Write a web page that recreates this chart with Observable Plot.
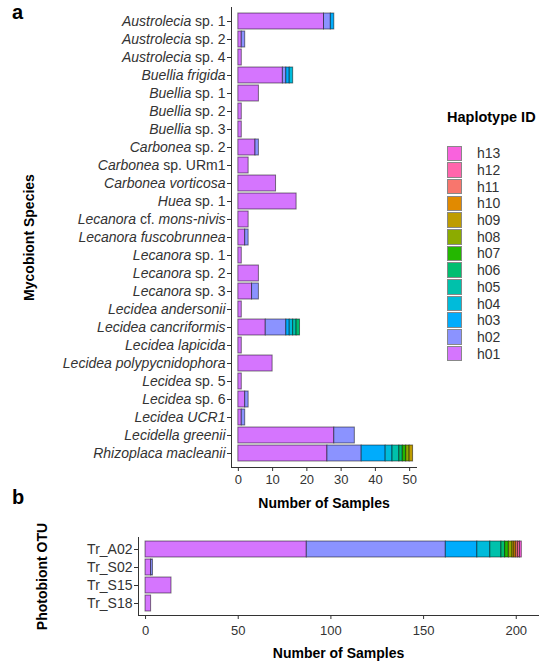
<!DOCTYPE html>
<html><head><meta charset="utf-8">
<script src="https://cdn.jsdelivr.net/npm/d3@7"></script>
<script src="https://cdn.jsdelivr.net/npm/@observablehq/plot@0.6"></script>
<style>
body{margin:0;background:#fff;font-family:"Liberation Sans",Arial,sans-serif;}
#wrap{position:relative;width:540px;height:664px;overflow:hidden;}
#wrap svg{position:absolute;left:0;}
.tag{position:absolute;font-weight:bold;font-size:20px;color:#000;line-height:20px;}
#legend{position:absolute;left:447px;top:108px;font-size:14px;color:#333;}
#legend .title{font-weight:bold;color:#000;font-size:14.5px;line-height:18px;margin-bottom:19px;}
#legend .row{display:flex;align-items:center;height:16.7px;}
#legend .key{width:15px;height:15.5px;border:1px solid #888;box-sizing:border-box;margin-right:15px;}
g[aria-label="x-axis label"] text, g[aria-label="y-axis label"] text{font-weight:bold;font-size:14px;fill:#000;}
g[aria-label="x-axis tick label"]{fill:#333;font-size:13px;}
g[aria-label="y-axis tick label"]{fill:#333;font-size:14px;}
g[aria-label="x-axis tick"], g[aria-label="y-axis tick"]{stroke:#333;}
</style></head><body><div id="wrap"></div>
<script>
const species = ["Austrolecia sp. 1","Austrolecia sp. 2","Austrolecia sp. 4","Buellia frigida","Buellia sp. 1","Buellia sp. 2","Buellia sp. 3","Carbonea sp. 2","Carbonea sp. URm1","Carbonea vorticosa","Huea sp. 1","Lecanora cf. mons-nivis","Lecanora fuscobrunnea","Lecanora sp. 1","Lecanora sp. 2","Lecanora sp. 3","Lecidea andersonii","Lecidea cancriformis","Lecidea lapicida","Lecidea polypycnidophora","Lecidea sp. 5","Lecidea sp. 6","Lecidea UCR1","Lecidella greenii","Rhizoplaca macleanii"];
// counts per haplotype h01, h02, h03, ...
const speciesCounts = [[25,2,1],[1,1],[1],[13,1,1,1],[6],[1],[1],[5,1],[3],[11],[17],[3],[2,1],[1],[6],[4,2],[1],[8,6,1,1,1,1],[1],[10],[1],[2,1],[1,1],[28,6],[26,10,7,2,2,1,1,1,1]];
const haplotypes = ["h01","h02","h03","h04","h05","h06","h07","h08","h09","h10","h11","h12","h13"];
const hapColors = ["#D575FE","#8B93FF","#00ACFC","#00BBDA","#00C1AB","#00BE70","#24B700","#8CAB00","#BE9C00","#E18A00","#F8766D","#FF65AC","#F962DD"];
const otus = ["Tr_A02","Tr_S02","Tr_S15","Tr_S18"];
const otuCounts = [[87,75,17,7,6,2,2,2,1,1,1,1,1],[3,1],[14],[3]];
const xTicksA = [0,10,20,30,40,50];
const xTicksB = [0,50,100,150,200];

function toRows(groups, counts){
  const rows = [];
  groups.forEach((g,i)=>counts[i].forEach((n,j)=>{ if(n>0) rows.push({group:g, hap:haplotypes[j], n}); }));
  return rows;
}
const rowsA = toRows(species, speciesCounts);
const rowsB = toRows(otus, otuCounts);
const font = "'Liberation Sans', Arial, sans-serif";
const wrap = document.getElementById("wrap");

const plotA = Plot.plot({
  width: 540, height: 515,
  marginLeft: 231, marginRight: 124, marginTop: 7, marginBottom: 48,
  style: {fontFamily: font, fontSize: "13px", background: "transparent"},
  x: {domain: [-2, 52]},
  y: {domain: species, paddingInner: 0.1, paddingOuter: 0.15},
  color: {domain: haplotypes, range: hapColors},
  marks: [
    Plot.barX(rowsA, {x: "n", y: "group", fill: "hap", stroke: "black", strokeOpacity: 0.5, strokeWidth: 1}),
    Plot.frame({anchor: "left", stroke: "#333"}),
    Plot.frame({anchor: "bottom", stroke: "#333"}),
    Plot.axisX({ticks: xTicksA, tickSize: 4, tickPadding: 3, label: "Number of Samples", labelAnchor: "center", labelArrow: "none", labelOffset: 40}),
    Plot.axisY({tickSize: 4, tickPadding: 2, label: "Mycobiont Species", labelAnchor: "center", labelArrow: "none", labelOffset: 207})
  ]
});
plotA.style.top = "0px";
wrap.appendChild(plotA);

const plotB = Plot.plot({
  width: 540, height: 149,
  marginLeft: 138, marginRight: 2, marginTop: 22, marginBottom: 49,
  style: {fontFamily: font, fontSize: "13px", background: "transparent"},
  x: {domain: [-3.8, 212]},
  y: {domain: otus, paddingInner: 0.1, paddingOuter: 0.15},
  color: {domain: haplotypes, range: hapColors},
  marks: [
    Plot.barX(rowsB, {x: "n", y: "group", fill: "hap", stroke: "black", strokeOpacity: 0.5, strokeWidth: 1}),
    Plot.frame({anchor: "left", stroke: "#333"}),
    Plot.frame({anchor: "bottom", stroke: "#333"}),
    Plot.axisX({ticks: xTicksB, tickSize: 4, tickPadding: 6, label: "Number of Samples", labelAnchor: "center", labelArrow: "none", labelOffset: 42}),
    Plot.axisY({tickSize: 4, tickPadding: 2, label: "Photobiont OTU", labelAnchor: "center", labelArrow: "none", labelOffset: 101})
  ]
});
plotB.style.top = "515px";
wrap.appendChild(plotB);

// italicize genus / epithet names in species tick labels
d3.select(plotA).selectAll('g[aria-label="y-axis tick label"] text').each(function(){
  const t = d3.select(this);
  const words = t.text().split(" ");
  t.text(null);
  let plain = false;
  words.forEach((w,i)=>{
    if (w === "sp.") plain = true;
    const isPlain = plain || w === "cf.";
    t.append("tspan").attr("font-style", isPlain ? "normal" : "italic").text((i ? " " : "") + w);
  });
});

// panel tags
const tagA = document.createElement("div"); tagA.className = "tag"; tagA.textContent = "a"; tagA.style.left = "12px"; tagA.style.top = "2px"; wrap.appendChild(tagA);
const tagB = document.createElement("div"); tagB.className = "tag"; tagB.textContent = "b"; tagB.style.left = "12px"; tagB.style.top = "487px"; wrap.appendChild(tagB);

// legend
const legend = document.createElement("div"); legend.id = "legend";
const title = document.createElement("div"); title.className = "title"; title.textContent = "Haplotype ID"; legend.appendChild(title);
haplotypes.slice().reverse().forEach(h=>{
  const row = document.createElement("div"); row.className = "row";
  const key = document.createElement("div"); key.className = "key"; key.style.background = hapColors[haplotypes.indexOf(h)];
  const lab = document.createElement("span"); lab.textContent = h;
  row.appendChild(key); row.appendChild(lab); legend.appendChild(row);
});
wrap.appendChild(legend);
</script></body></html>
